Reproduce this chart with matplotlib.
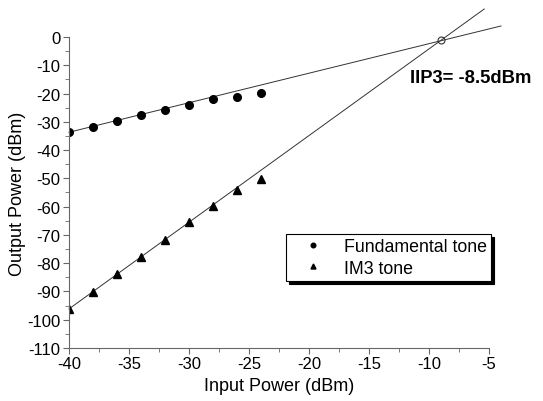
import numpy as np
from matplotlib import pyplot as plt

# measured points
p_in = np.array([-40, -38, -36, -34, -32, -30, -28, -26, -24])
fund = np.array([-33.7, -31.7, -29.7, -27.7, -25.8, -23.9, -21.9, -21.1, -19.8])
im3 = np.array([-96.2, -90.3, -84.0, -77.9, -71.7, -65.6, -59.7, -54.0, -50.2])

# extrapolated fit lines (end points)
fund_line_x = [-40, -4.0]
fund_line_y = [-33.7, 3.9]
im3_line_x = [-40, -5.4]
im3_line_y = [-96.2, 9.9]

iip3_x = -9.0
iip3_y = -1.0

plt.rcParams['font.family'] = ['Liberation Sans', 'DejaVu Sans']
plt.rcParams['axes.unicode_minus'] = False

fig = plt.figure(figsize=(5.43, 4.02), dpi=100)
ax = fig.add_axes([0.127, 0.132, 0.7736, 0.7735])

ax.plot(fund_line_x, fund_line_y, '-', color='#333333', lw=0.7, clip_on=False)
ax.plot(im3_line_x, im3_line_y, '-', color='#333333', lw=0.7, clip_on=False)
ax.plot(p_in, fund, 'o', color='black', ms=5.5, label='Fundamental tone')
ax.plot(p_in, im3, '^', color='black', ms=6, label='IM3 tone')
ax.plot(iip3_x, iip3_y, 'o', mfc='none', mec='#333333', ms=5, mew=0.8, clip_on=False)

ax.text(-11.6, -14.2, 'IIP3= -8.5dBm', fontsize=13.2, fontweight='bold', va='center')

ax.set_xlim(-40, -5)
ax.set_ylim(-110, 0)
ax.set_xticks(np.arange(-40, -4, 5))
ax.set_xticks(np.arange(-40, -4, 2.5), minor=True)
ax.set_yticks(np.arange(-110, 1, 10))
ax.set_yticks(np.arange(-110, 1, 5), minor=True)

for s in ['top', 'right']:
    ax.spines[s].set_visible(False)
for s in ['left', 'bottom']:
    ax.spines[s].set_color('#666666')
    ax.spines[s].set_linewidth(0.8)
ax.tick_params(which='both', direction='out', color='#666666', labelsize=12, pad=2)
ax.tick_params(which='major', length=4)
ax.tick_params(which='minor', length=3)

ax.set_xlabel('Input Power (dBm)', fontsize=13, labelpad=4)
ax.set_ylabel('Output Power (dBm)', fontsize=13, labelpad=1)

leg = ax.legend(loc='upper left', bbox_to_anchor=(0.517, 0.367), fontsize=12.8,
                fancybox=False, edgecolor='black', framealpha=1, markerscale=0.6,
                shadow={'color': 'black', 'alpha': 1}, borderpad=0.25, labelspacing=0.25,
                handlelength=2.5, handletextpad=0.5, borderaxespad=0)
leg.get_frame().set_linewidth(0.8)

fig.savefig('out.png', dpi=100)
